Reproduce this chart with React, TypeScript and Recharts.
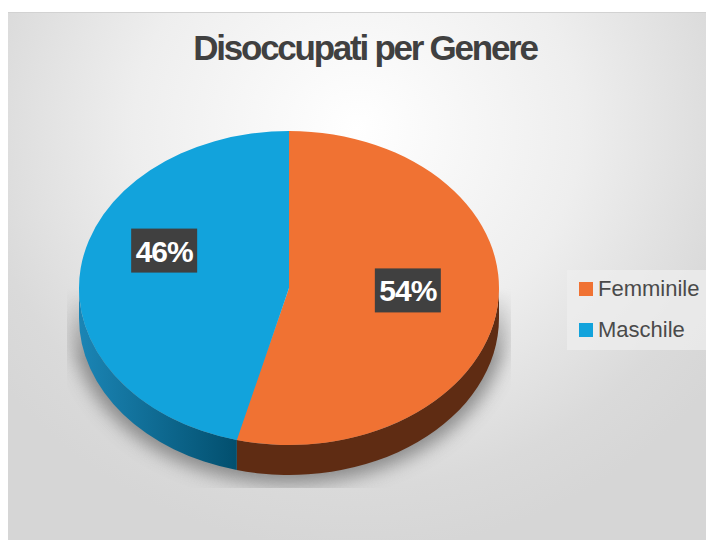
import { Legend, Pie, PieChart, Sector } from "recharts";

const categories = ["Femminile", "Maschile"];
const shares = [54, 46];
const topColors = ["#f07233", "#12a3dc"];
const wallColors = ["#5f2c13", "url(#wallBlue)"];
// the boxes do not sit on the slice bisector in the original
const labelShift = [
  { x: -2, y: -9 },
  { x: -4, y: -26 },
];

const tableData = categories.map((name, i) => ({
  name,
  value: shares[i],
  fill: topColors[i],
}));

const WIDTH = 698;
const HEIGHT = 528;
const CX = 281;
const CY = 275;
const RX = 210;
const SQUASH = 157 / 210;
const DEPTH = 30;
const RAD = Math.PI / 180;

const PieSlice = (props: any) => {
  const { cx, cy, outerRadius, startAngle, endAngle, fill, index } = props;
  const ry = outerRadius * SQUASH;
  const hi = Math.min(startAngle, 0);
  const lo = Math.max(endAngle, -180);
  const px = (a: number) => cx + outerRadius * Math.cos(a * RAD);
  const py = (a: number) => cy - ry * Math.sin(a * RAD);
  const wall =
    `M${px(hi)} ${py(hi)} A${outerRadius} ${ry} 0 0 1 ${px(lo)} ${py(lo)} ` +
    `L${px(lo)} ${py(lo) + DEPTH} A${outerRadius} ${ry} 0 0 0 ${px(hi)} ${py(hi) + DEPTH} Z`;
  return (
    <g>
      {hi > lo && <path d={wall} fill={wallColors[index]} />}
      <g transform={`translate(0 ${cy}) scale(1 ${SQUASH}) translate(0 ${-cy})`}>
        <Sector
          cx={cx}
          cy={cy}
          innerRadius={0}
          outerRadius={outerRadius}
          startAngle={startAngle}
          endAngle={endAngle}
          fill={fill}
          stroke="none"
        />
      </g>
    </g>
  );
};

const PercentBox = (props: any) => {
  const { cx, cy, outerRadius, midAngle, index, value } = props;
  const x = cx + outerRadius * 0.58 * Math.cos(midAngle * RAD) + labelShift[index].x;
  const y = cy - outerRadius * SQUASH * 0.58 * Math.sin(midAngle * RAD) + labelShift[index].y;
  return (
    <g>
      <rect x={x - 33} y={y - 22} width={66} height={44} fill="#404040" />
      <text
        x={x}
        y={y + 11}
        textAnchor="middle"
        fontFamily="Liberation Sans"
        fontWeight="bold"
        fontSize={30}
        letterSpacing={-1}
        fill="#ffffff"
      >
        {value}%
      </text>
    </g>
  );
};

const LegendBox = () => (
  <div
    style={{
      width: 139,
      height: 80,
      background: "rgba(238,238,238,0.75)",
      position: "relative",
      fontFamily: "Liberation Sans",
      fontSize: 22,
      color: "#4a4a4a",
    }}
  >
    {categories.map((name, i) => (
      <div key={name} style={{ position: "absolute", left: 12, top: 5 + i * 41, display: "flex", alignItems: "center", height: 28 }}>
        <span style={{ width: 14, height: 14, background: topColors[i], marginRight: 5 }} />
        <span>{name}</span>
      </div>
    ))}
  </div>
);

export default function App() {
  return (
    <div
      style={{
        position: "absolute",
        left: 8,
        top: 12,
        width: WIDTH,
        height: HEIGHT,
        overflow: "hidden",
        borderTop: "1px solid #d2d2d2",
        boxSizing: "border-box",
        background: "radial-gradient(ellipse 64% 80% at 50% 22%, #ffffff 0%, #eeeeee 50%, #dadada 85%, #d6d6d6 100%)",
      }}
    >
      <svg width={WIDTH} height={HEIGHT} style={{ position: "absolute", left: 0, top: 0 }}>
        <defs>
          <filter id="soft" x="-20%" y="-20%" width="140%" height="140%">
            <feGaussianBlur stdDeviation="9" />
          </filter>
          <linearGradient id="shadowFade" x1="0" y1="0" x2="0" y2="1">
            <stop offset="0" stopColor="#fff" stopOpacity="0" />
            <stop offset="0.35" stopColor="#fff" stopOpacity="1" />
          </linearGradient>
          <mask id="shadowMask">
            <rect x={59} y={275} width={444} height={200} fill="url(#shadowFade)" />
          </mask>
        </defs>
        <g mask="url(#shadowMask)">
          <ellipse cx={CX} cy={CY + 32} rx={218} ry={164} fill="#6e6e6e" opacity={0.75} filter="url(#soft)" />
        </g>
      </svg>
      <PieChart
        width={WIDTH}
        height={HEIGHT}
        margin={{ top: 0, right: 0, bottom: 0, left: 0 }}
        style={{ position: "absolute", left: 0, top: 0 }}
      >
        <defs>
          <linearGradient id="wallBlue" gradientUnits="userSpaceOnUse" x1={CX - RX} y1="0" x2={CX - 52} y2="0">
            <stop offset="0" stopColor="#1b85b5" />
            <stop offset="1" stopColor="#024f6e" />
          </linearGradient>
        </defs>
        <text
          x={357}
          y={47}
          textAnchor="middle"
          fontFamily="Liberation Sans"
          fontWeight="bold"
          fontSize={35}
          letterSpacing={-2.25}
          fill="#404040"
        >
          Disoccupati per Genere
        </text>
        <Pie
          data={tableData}
          dataKey="value"
          nameKey="name"
          cx={CX}
          cy={CY}
          outerRadius={RX}
          startAngle={90}
          endAngle={-270}
          stroke="none"
          shape={PieSlice}
          label={PercentBox}
          labelLine={false}
          isAnimationActive={false}
        />
        <Legend
          layout="vertical"
          align="right"
          verticalAlign="top"
          content={LegendBox}
          wrapperStyle={{ top: 257, right: 0, width: 139 }}
        />
      </PieChart>
    </div>
  );
}
